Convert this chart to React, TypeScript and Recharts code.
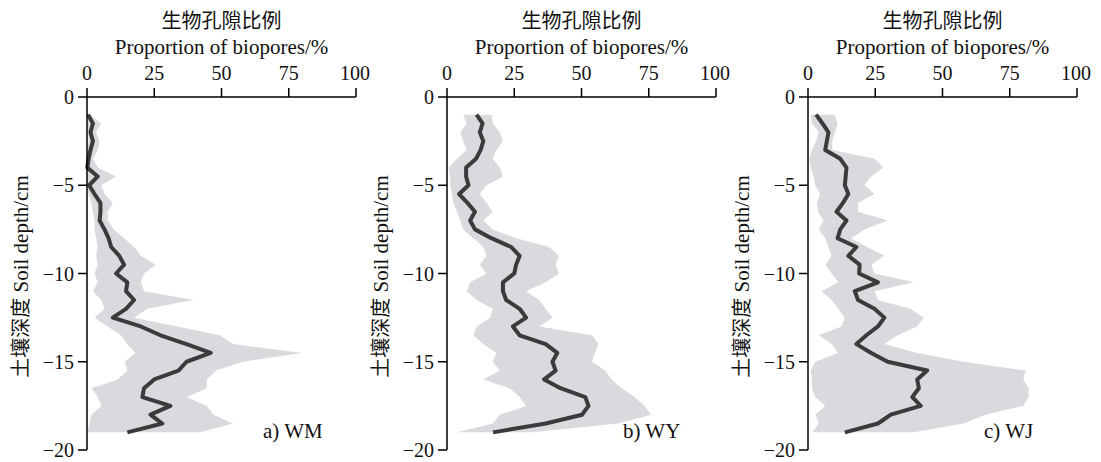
import React from 'react'
import { ComposedChart, Area, Line, XAxis, YAxis } from 'recharts'

// soil depth (cm), same sampling for all three profiles
const depths = [-1, -1.5, -2, -2.5, -3, -3.5, -4, -4.5, -5, -5.5, -6, -6.5, -7, -7.5, -8, -8.5, -9, -9.5, -10, -10.5,
  -11, -11.5, -12, -12.5, -13, -13.5, -14, -14.5, -15, -15.5, -16, -16.5, -17, -17.5, -18, -18.5, -19]

const xTicks = [0, 25, 50, 75, 100]
const yTicks = [0, -5, -10, -15, -20]

// a) WM
const wmMean = [0.4, 2.2, 1.3, 2.2, 1.3, 0.6, 0.1, 4, 0.8, 2.8, 5, 5, 4.7, 6.5, 8, 9, 12, 13.8, 10.8, 15,
  14.5, 17.5, 14.5, 9.6, 20, 27.3, 37, 46, 37, 34, 25, 21.2, 20.6, 31, 23.6, 28, 15]
const wmMin = [0, 0, 0.4, 0.6, 0, 0, 0, 0, 0, 0.6, 1.6, 2.2, 2.8, 2.8, 3.4, 4, 3.4, 4, 2.8, 4,
  2.2, 5.3, 6.5, 2.8, 7.7, 12.6, 15, 18, 14, 15, 11.4, 1.6, 4, 5.3, 1.6, 1, 0]
const wmMax = [1, 5.3, 3.4, 4.7, 4, 2.2, 4, 10.8, 5.3, 6.5, 9.6, 7.7, 7.7, 10, 13.8, 17.5, 20, 25.5, 21.2, 20,
  21.2, 39.6, 22.4, 17.5, 33.5, 49.4, 54.3, 80, 58, 48, 44.5, 44.5, 37, 44.5, 47, 54.3, 42]

// b) WY
const wyMean = [11, 13.2, 12.2, 13.5, 12.5, 10.8, 7.1, 7.1, 8, 4.5, 7.6, 10.4, 8.6, 10.4, 16.5, 23.9, 27, 25.7, 25, 20.8,
  20.8, 22, 27, 29.4, 24.5, 27, 36.7, 41, 39.2, 40.4, 36.1, 42.2, 51.4, 52.6, 50.2, 36.7, 17.1]
const wyMin = [6, 7.3, 5, 6, 7.3, 3.7, 0.6, 1.2, 1.2, 1.8, 2.4, 3.7, 4.9, 6, 9.8, 13.5, 14.7, 12.2, 14.7, 8.6,
  7.3, 11, 17, 16, 11, 9.8, 13.5, 18.4, 17, 19.6, 13.5, 23.3, 27, 29.4, 19.6, 17, 3.7]
const wyMax = [16.5, 17, 19.6, 20.8, 18.4, 17, 19.6, 20.8, 14.7, 12.2, 14.7, 17, 13.5, 17, 25.7, 38, 41.6, 40.4, 41.6, 36.7,
  29.4, 34.3, 36.7, 39.2, 34.3, 53.9, 56.3, 55, 53.9, 58.8, 61.2, 64.9, 69.8, 73.4, 75.9, 63.6, 31.8]

// c) WJ
const wjMean = [3, 5.4, 7.6, 7, 6.4, 12, 14.3, 14, 13.7, 15, 13, 10.6, 14.3, 12, 11, 18, 15, 19.2, 19, 26,
  17.4, 18.6, 24.7, 28.4, 26, 21.7, 18, 23.5, 29.6, 44.3, 40.6, 41.2, 38.8, 41.9, 30.8, 26, 13.7]
const wjMin = [1, 1.5, 4, 3, 1.5, 0.5, 1, 2, 2.7, 4.5, 3.3, 3.7, 5.7, 4, 6.4, 7.6, 8.8, 6.4, 8.8, 11.3,
  5, 8.8, 11.3, 13.7, 12.5, 4, 8.8, 11.3, 2.7, 1, 1.5, 1.5, 2.7, 6.4, 2.7, 4, 1.5]
const wjMax = [10, 11, 10, 9, 9, 24.7, 28, 23.5, 21, 24.7, 18.6, 18.6, 29.6, 21, 16, 22, 28.4, 23.5, 24.7, 39.4,
  24.7, 26, 38, 43, 40.6, 33.3, 28.4, 40.6, 57.8, 81, 80, 82, 82, 80, 66, 57.8, 39.4]

const SERIF = '"Liberation Serif", "Times New Roman", serif'
const CJK = '"Noto Sans CJK SC", "Liberation Serif", sans-serif'

const PLOT_LEFT = 87   // inside each panel
const PLOT_W = 269
const W = 370

const fmtMinus = (v: number) => (v < 0 ? '\u2212' + Math.abs(v) : String(v))

function Panel({ x, mean, lo, hi, tag }: { x: number, mean: number[], lo: number[], hi: number[], tag: string }) {
  const data = depths.map((d, i) => ({ d, mean: mean[i], band: [lo[i], hi[i]] }))
  const cx = PLOT_LEFT + PLOT_W / 2
  return (
    <div style={{ position: 'absolute', left: x - PLOT_LEFT, top: 0, width: W, height: 462 }}>
      <div style={{ position: 'absolute', left: cx - 100, width: 200, top: 8, textAlign: 'center', fontFamily: CJK, fontSize: 20, lineHeight: '24px', color: '#111' }}>生物孔隙比例</div>
      <div style={{ position: 'absolute', left: cx - 150, width: 300, top: 34, textAlign: 'center', fontFamily: SERIF, fontSize: 21, lineHeight: '26px', color: '#111' }}>Proportion of biopores/%</div>
      <div style={{ position: 'absolute', left: 20 - 150, top: 276 - 13, width: 300, textAlign: 'center', transform: 'rotate(-90deg)', fontSize: 21, lineHeight: '26px', color: '#111', whiteSpace: 'nowrap' }}>
        <span style={{ fontFamily: CJK, fontSize: 20 }}>土壤深度</span>
        <span style={{ fontFamily: SERIF }}> Soil depth/cm</span>
      </div>
      <div style={{ position: 'absolute', left: PLOT_LEFT + 176, top: 418, fontFamily: SERIF, fontSize: 21, lineHeight: '26px', color: '#111', whiteSpace: 'nowrap' }}>{tag}</div>
      <ComposedChart width={W} height={462} layout="vertical" data={data}
        margin={{ top: 67, right: W - PLOT_LEFT - PLOT_W, bottom: 12, left: PLOT_LEFT - 40 }}>
        <XAxis type="number" orientation="top" domain={[0, 100]} ticks={xTicks} height={30}
          stroke="#000" strokeWidth={1.5} tickSize={9} tickMargin={8}
          tick={{ fill: '#111', fontSize: 20, fontFamily: SERIF }} />
        <YAxis type="number" dataKey="d" domain={[-20, 0]} ticks={yTicks} width={40} reversed
          stroke="#000" strokeWidth={1.5} tickSize={9} tickMargin={4} tickFormatter={fmtMinus}
          tick={{ fill: '#111', fontSize: 20, fontFamily: SERIF }} />
        <Area dataKey="band" type="linear" stroke="none" fill="#dad9dd" fillOpacity={1} isAnimationActive={false} />
        <Line dataKey="mean" type="linear" stroke="#3b3b3d" strokeWidth={4} dot={false}
          strokeLinejoin="round" isAnimationActive={false} />
      </ComposedChart>
    </div>
  )
}

export default function App() {
  return (
    <div style={{ position: 'absolute', left: 0, top: 0, width: 1101, height: 462, background: '#fff', overflow: 'hidden' }}>
      <Panel x={87} mean={wmMean} lo={wmMin} hi={wmMax} tag="a) WM" />
      <Panel x={447} mean={wyMean} lo={wyMin} hi={wyMax} tag="b) WY" />
      <Panel x={808} mean={wjMean} lo={wjMin} hi={wjMax} tag="c) WJ" />
    </div>
  )
}
